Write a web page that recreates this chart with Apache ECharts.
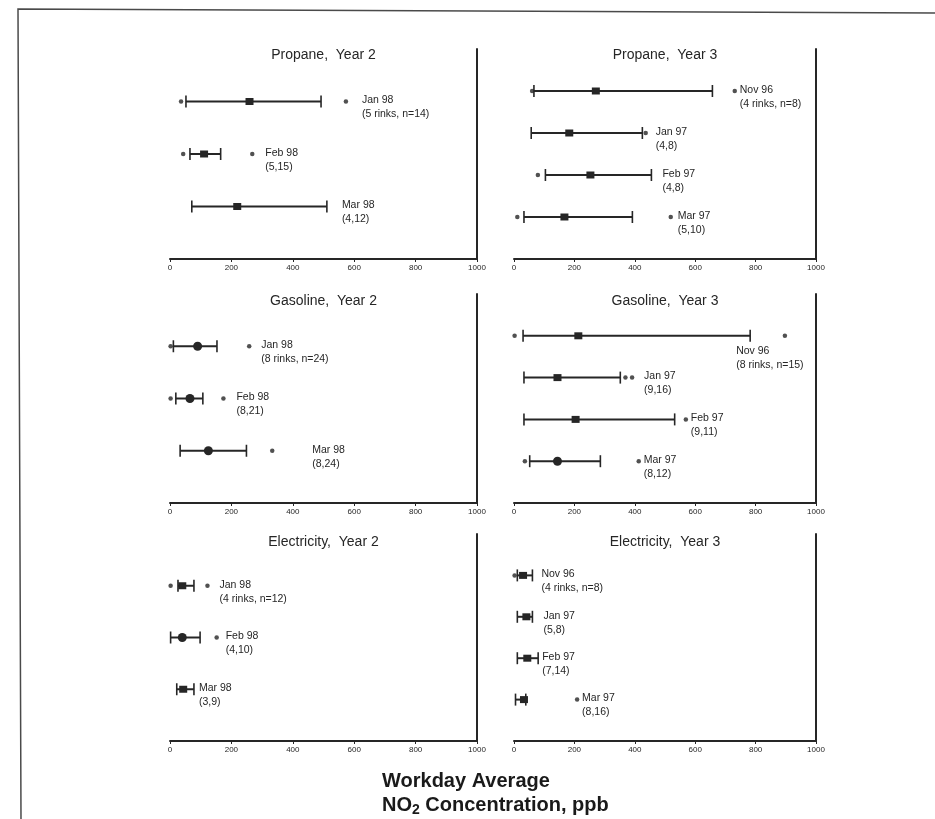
<!DOCTYPE html>
<html>
<head>
<meta charset="utf-8">
<title>Workday Average NO2 Concentration</title>
<script src="https://cdn.jsdelivr.net/npm/echarts@6/dist/echarts.min.js"></script>
<style>
  html, body { margin: 0; padding: 0; background: #fff; }
  #chart { width: 935px; height: 819px; }
</style>
</head>
<body>
<div id="chart"></div>
<script>
// values, ppb
// low / high = ends of the bar, median = the marker, outliers = loose dots

// Propane, Year 2
var propaneY2Months = ['Jan 98', 'Feb 98', 'Mar 98'];
var propaneY2Counts = ['(5 rinks, n=14)', '(5,15)', '(4,12)'];
var propaneY2Low = [52, 65, 71];
var propaneY2High = [492, 165, 511];
var propaneY2Median = [259, 111, 219];
var propaneY2Outliers = [[36, 573], [43, 268], []];

// Propane, Year 3
var propaneY3Months = ['Nov 96', 'Jan 97', 'Feb 97', 'Mar 97'];
var propaneY3Counts = ['(4 rinks, n=8)', '(4,8)', '(4,8)', '(5,10)'];
var propaneY3Low = [66, 57, 104, 33];
var propaneY3High = [657, 425, 455, 392];
var propaneY3Median = [271, 183, 253, 167];
var propaneY3Outliers = [[60, 731], [436], [79], [11, 519]];

// Gasoline, Year 2
var gasolineY2Months = ['Jan 98', 'Feb 98', 'Mar 98'];
var gasolineY2Counts = ['(8 rinks, n=24)', '(8,21)', '(8,24)'];
var gasolineY2Low = [11, 19, 33];
var gasolineY2High = [153, 107, 249];
var gasolineY2Median = [90, 65, 125];
var gasolineY2Outliers = [[2, 258], [2, 174], [333]];

// Gasoline, Year 3
var gasolineY3Months = ['Nov 96', 'Jan 97', 'Feb 97', 'Mar 97'];
var gasolineY3Counts = ['(8 rinks, n=15)', '(9,16)', '(9,11)', '(8,12)'];
var gasolineY3Low = [30, 33, 33, 52];
var gasolineY3High = [782, 352, 532, 286];
var gasolineY3Median = [213, 144, 204, 144];
var gasolineY3Outliers = [[2, 897], [369, 391], [569], [36, 413]];

// Electricity, Year 2
var electricY2Months = ['Jan 98', 'Feb 98', 'Mar 98'];
var electricY2Counts = ['(4 rinks, n=12)', '(4,10)', '(3,9)'];
var electricY2Low = [26, 2, 22];
var electricY2High = [78, 98, 78];
var electricY2Median = [40, 40, 43];
var electricY2Outliers = [[2, 122], [152], []];

// Electricity, Year 3
var electricY3Months = ['Nov 96', 'Jan 97', 'Feb 97', 'Mar 97'];
var electricY3Counts = ['(4 rinks, n=8)', '(5,8)', '(7,14)', '(8,16)'];
var electricY3Low = [11, 11, 11, 5];
var electricY3High = [61, 61, 80, 39];
var electricY3Median = [30, 41, 44, 33];
var electricY3Outliers = [[2], [], [], [209]];

var xTicks = [0, 200, 400, 600, 800, 1000];

// layout: panel title, marker shape per row, pixel gap before each label
var panels = [
  { title: 'Propane,  Year 2', months: propaneY2Months, counts: propaneY2Counts, low: propaneY2Low, high: propaneY2High,
    median: propaneY2Median, outliers: propaneY2Outliers, marks: ['rect', 'rect', 'rect'], gaps: [16, 13, 15] },
  { title: 'Propane,  Year 3', months: propaneY3Months, counts: propaneY3Counts, low: propaneY3Low, high: propaneY3High,
    median: propaneY3Median, outliers: propaneY3Outliers, marks: ['rect', 'rect', 'rect', 'rect'], gaps: [5, 10, 11, 7] },
  { title: 'Gasoline,  Year 2', months: gasolineY2Months, counts: gasolineY2Counts, low: gasolineY2Low, high: gasolineY2High,
    median: gasolineY2Median, outliers: gasolineY2Outliers, marks: ['circle', 'circle', 'circle'], gaps: [12, 13, 40] },
  { title: 'Gasoline,  Year 3', months: gasolineY3Months, counts: gasolineY3Counts, low: gasolineY3Low, high: gasolineY3High,
    median: gasolineY3Median, outliers: gasolineY3Outliers, marks: ['rect', 'rect', 'rect', 'circle'], gaps: [0, 12, 5, 5],
    labelBelow: 0 },
  { title: 'Electricity,  Year 2', months: electricY2Months, counts: electricY2Counts, low: electricY2Low, high: electricY2High,
    median: electricY2Median, outliers: electricY2Outliers, marks: ['rect', 'circle', 'rect'], gaps: [12, 9, 5] },
  { title: 'Electricity,  Year 3', months: electricY3Months, counts: electricY3Counts, low: electricY3Low, high: electricY3High,
    median: electricY3Median, outliers: electricY3Outliers, marks: ['rect', 'rect', 'rect', 'rect'], gaps: [9, 11, 4, 5] }
];

var colLeft = [170, 514];
var colWidth = [307, 302];
var rowTop = [49, 294, 534];
var rowHeight = [210, 209, 207];
var titleMid = [56, 302, 543];

var ink = '#262626';
var font = '"Liberation Sans", Arial, sans-serif';

function rangeItem(p) {
  return function (params, api) {
    var i = params.dataIndex;
    var row = api.value(0);
    var lo = api.coord([api.value(1), row]);
    var hi = api.coord([api.value(2), row]);
    var md = api.coord([api.value(3), row]);
    var far = api.coord([Math.max.apply(null, [p.high[i]].concat(p.outliers[i])), row]);
    var cap = 6;
    var kids = [
      { type: 'line', shape: { x1: lo[0], y1: lo[1], x2: hi[0], y2: hi[1] }, style: { stroke: ink, lineWidth: 2 } },
      { type: 'line', shape: { x1: lo[0], y1: lo[1] - cap, x2: lo[0], y2: lo[1] + cap }, style: { stroke: ink, lineWidth: 1.6 } },
      { type: 'line', shape: { x1: hi[0], y1: hi[1] - cap, x2: hi[0], y2: hi[1] + cap }, style: { stroke: ink, lineWidth: 1.6 } }
    ];
    if (p.marks[i] === 'circle') {
      kids.push({ type: 'circle', shape: { cx: md[0], cy: md[1], r: 4.5 }, style: { fill: ink } });
    } else {
      kids.push({ type: 'rect', shape: { x: md[0] - 4, y: md[1] - 3.5, width: 8, height: 7 }, style: { fill: ink } });
    }
    var lx, ly;
    if (p.labelBelow === i) {
      lx = hi[0] - 14;
      ly = hi[1] + 8;
    } else {
      lx = far[0] + p.gaps[i];
      ly = far[1] - 8;
    }
    kids.push({
      type: 'text', x: lx, y: ly,
      style: {
        text: p.months[i] + '\n' + p.counts[i], fill: ink,
        font: '10.5px ' + font, lineHeight: 14,
        textAlign: 'left', textVerticalAlign: 'top'
      }
    });
    return { type: 'group', children: kids };
  };
}

var option = {
  backgroundColor: '#fff',
  animation: false,
  title: [], grid: [], xAxis: [], yAxis: [], series: [],
  graphic: [
    { type: 'polyline', shape: { points: [[935, 13], [18, 9], [21, 819]] },
      style: { stroke: '#4a4a4a', lineWidth: 1.5, fill: null } },
    { type: 'text', left: 382, top: 771,
      style: {
        text: '{b|Workday Average}\n{b|NO}{s|2}{b| Concentration, ppb}',
        rich: {
          b: { fontSize: 20, fontWeight: 'bold', fontFamily: font, fill: '#1a1a1a', lineHeight: 24 },
          s: { fontSize: 14, fontWeight: 'bold', fontFamily: font, fill: '#1a1a1a', lineHeight: 24, padding: [10, 0, 0, 0] }
        }
      } }
  ]
};

panels.forEach(function (p, k) {
  var c = k % 2, r = Math.floor(k / 2);
  var n = p.months.length;
  option.title.push({
    text: p.title, left: colLeft[c] + colWidth[c] / 2, top: titleMid[r] - 8, textAlign: 'center', padding: 0,
    textStyle: { fontSize: 14, fontWeight: 'normal', fontFamily: font, color: ink }
  });
  option.grid.push({ left: colLeft[c], top: rowTop[r], width: colWidth[c], height: rowHeight[r] });
  option.xAxis.push({
    type: 'value', gridIndex: k, min: xTicks[0], max: xTicks[xTicks.length - 1], interval: 200,
    position: 'bottom',
    axisLine: { onZero: false, lineStyle: { color: ink, width: 2 } },
    axisTick: { length: 3, lineStyle: { color: ink } },
    axisLabel: { fontSize: 8, color: ink, margin: 5, fontFamily: font, formatter: function (v) { return String(v); } },
    splitLine: { show: false }
  });
  option.yAxis.push({
    type: 'value', gridIndex: k, min: 0, max: n + 1, inverse: true, position: 'right',
    axisLine: { show: true, onZero: false, lineStyle: { color: ink, width: 2 } },
    axisTick: { show: false }, axisLabel: { show: false }, splitLine: { show: false }
  });
  var rows = p.months.map(function (m, i) { return [i + 1, p.low[i], p.high[i], p.median[i]]; });
  option.series.push({
    type: 'custom', xAxisIndex: k, yAxisIndex: k, renderItem: rangeItem(p),
    encode: { x: [1, 2, 3], y: 0 }, data: rows, clip: false
  });
  var dots = [];
  p.outliers.forEach(function (list, i) {
    list.forEach(function (v) { dots.push([v, i + 1]); });
  });
  option.series.push({
    type: 'scatter', xAxisIndex: k, yAxisIndex: k, data: dots,
    symbol: 'circle', symbolSize: 4.5, itemStyle: { color: ink }, clip: false
  });
});

var myChart = echarts.init(document.getElementById('chart'));
myChart.setOption(option);
</script>
</body>
</html>
